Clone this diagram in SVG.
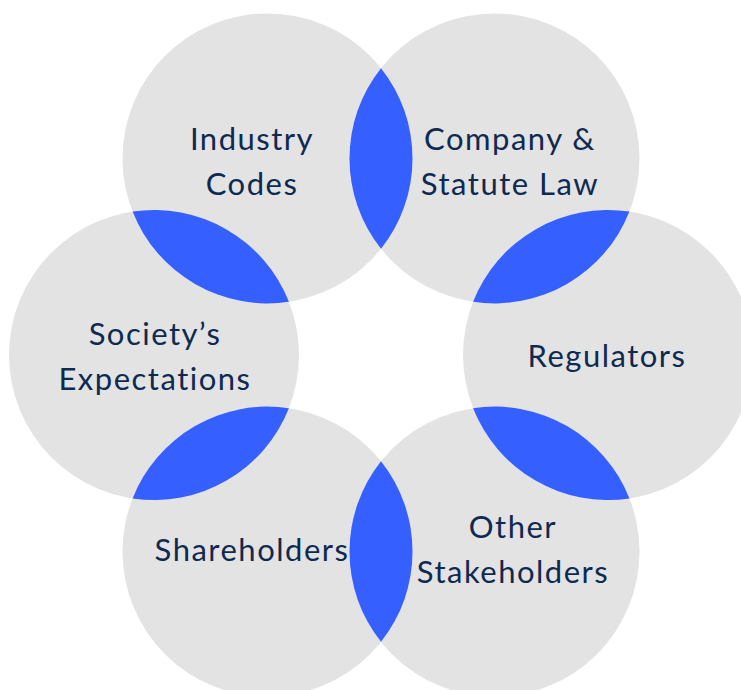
<svg xmlns="http://www.w3.org/2000/svg" width="741" height="690" viewBox="0 0 741 690">
<style>
.c{fill:#e3e3e3}
.l{fill:#3560ff}
.t{font-family:Lato,Inter,"Liberation Sans",sans-serif;font-size:31px;fill:#0e2a50;text-anchor:middle;letter-spacing:1.5px}
</style>
<rect width="741" height="690" fill="#ffffff"/>
<g id="industry-codes"><circle class="c" cx="267.5" cy="158.4" r="145"/></g>
<g id="company-statute-law"><circle class="c" cx="494.5" cy="158.4" r="145"/></g>
<g id="regulators"><circle class="c" cx="608" cy="355" r="145"/></g>
<g id="other-stakeholders"><circle class="c" cx="494.5" cy="551.6" r="145"/></g>
<g id="shareholders"><circle class="c" cx="267.5" cy="551.6" r="145"/></g>
<g id="societys-expectations"><circle class="c" cx="154" cy="355" r="145"/></g>
<g id="overlaps">
<path class="l" d="M381 68.16A145 145 0 0 0 381 248.64A145 145 0 0 0 381 68.16Z"/>
<path class="l" d="M629.4 211.58A145 145 0 0 0 473.1 301.82A145 145 0 0 0 629.4 211.58Z"/>
<path class="l" d="M629.4 498.42A145 145 0 0 0 473.1 408.18A145 145 0 0 0 629.4 498.42Z"/>
<path class="l" d="M381 461.36A145 145 0 0 0 381 641.84A145 145 0 0 0 381 461.36Z"/>
<path class="l" d="M288.9 408.18A145 145 0 0 0 132.6 498.42A145 145 0 0 0 288.9 408.18Z"/>
<path class="l" d="M288.9 301.82A145 145 0 0 0 132.6 211.58A145 145 0 0 0 288.9 301.82Z"/>
</g>
<g id="labels">
<text class="t" x="252" y="150">Industry</text>
<text class="t" x="252" y="195">Codes</text>
<text class="t" x="510" y="150">Company &amp;</text>
<text class="t" x="510" y="195">Statute Law</text>
<text class="t" x="607" y="367">Regulators</text>
<text class="t" x="155" y="345">Society’s</text>
<text class="t" x="155" y="390">Expectations</text>
<text class="t" x="252" y="561">Shareholders</text>
<text class="t" x="513" y="538">Other</text>
<text class="t" x="513" y="583">Stakeholders</text>
</g>
</svg>
